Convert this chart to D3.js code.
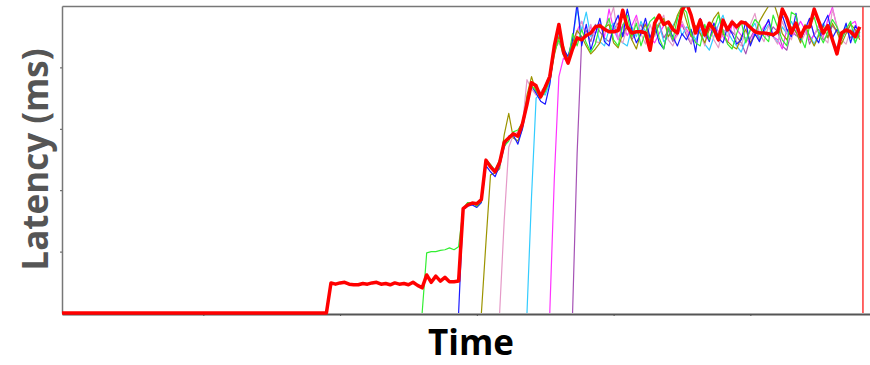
<!DOCTYPE html>
<html>
<head>
<meta charset="utf-8">
<script src="https://cdn.jsdelivr.net/npm/d3@7"></script>
<style>
  html, body { margin: 0; padding: 0; background: #fff; }
  svg { display: block; }
</style>
</head>
<body>
<svg id="chart" width="870" height="365"></svg>
<script>
// ---- data: latency per sample, one array per client (index = sample number) ----
const yTickValues = [1, 2, 3, 4];
const xTickValues = [31, 61, 91, 121, 151];
const cursorTime = [175.7];

const redStart = 0;
const redValues = [
  0,0,0,0,0,0,0,0,0,0,
  0,0,0,0,0,0,0,0,0,0,
  0,0,0,0,0,0,0,0,0,0,
  0,0,0,0,0,0,0,0,0,0,
  0,0,0,0,0,0,0,0,0,0,
  0,0,0,0,0,0,0,0,0,0.49,
  0.47,0.49,0.50,0.47,0.46,0.46,0.48,0.47,0.49,0.50,
  0.47,0.48,0.46,0.49,0.47,0.48,0.46,0.50,0.45,0.41,
  0.62,0.50,0.60,0.52,0.58,0.51,0.51,0.52,1.70,1.76,
  1.79,1.78,1.85,2.49,2.38,2.30,2.45,2.78,2.85,2.92,
  2.88,3.08,3.40,3.75,3.70,3.52,3.68,3.85,4.35,4.70,
  4.25,4.07,4.30,4.48,4.45,4.52,4.56,4.66,4.68,4.62,
  4.58,4.58,4.60,4.93,4.66,4.56,4.58,4.58,4.56,4.28,
  4.72,4.85,4.70,4.74,4.62,4.56,4.93,5.05,4.85,4.56,
  4.77,4.53,4.72,4.62,4.45,4.77,4.61,4.74,4.66,4.74,
  4.72,4.65,4.58,4.56,4.56,4.55,4.53,4.58,4.95,4.80,
  4.56,4.72,4.50,4.66,4.66,4.95,4.75,4.56,4.68,4.45,
  4.22,4.56,4.61,4.58,4.50,4.66
];

const greenStart = 79;
const greenValues = [
  0,
  0.98,1.00,1.00,1.02,1.03,1.06,1.03,1.08,1.70,1.80,
  1.80,1.74,1.82,2.50,2.42,2.32,2.50,2.72,2.80,2.95,
  2.98,3.10,3.45,3.70,3.62,3.50,3.60,3.80,4.25,4.45,
  4.20,4.10,4.55,4.35,4.62,4.40,4.25,4.38,4.70,4.62,
  4.80,4.45,4.35,4.68,4.85,4.50,4.72,4.35,4.58,4.75,
  4.82,4.48,4.30,4.66,4.45,4.80,4.98,4.90,4.55,4.40,
  4.35,4.70,4.45,4.62,4.85,4.60,4.38,4.30,4.55,4.75,
  4.40,4.62,4.78,4.70,4.50,4.42,4.85,4.65,4.45,4.35,
  4.90,4.85,4.50,4.32,4.68,4.82,4.55,4.40,4.58,4.78,
  4.66,4.45,4.62,4.75,4.40,4.58
];

const blueStart = 87;
const blueValues = [
  0,1.68,1.74,
  1.76,1.72,1.80,2.40,2.30,2.22,2.40,2.70,2.88,2.90,
  2.75,3.00,3.38,3.70,3.58,3.45,3.40,3.72,4.30,4.65,
  4.30,4.18,4.45,5.05,4.35,4.70,4.28,4.55,4.80,4.42,
  4.35,4.68,4.85,4.50,4.95,4.62,4.40,4.55,4.80,4.48,
  4.70,4.40,4.30,4.65,4.50,4.35,4.55,4.45,4.62,4.25,
  4.80,4.60,4.42,4.72,4.48,4.40,4.66,4.55,4.38,4.45,
  4.75,4.35,4.55,4.42,4.62,4.78,4.50,4.60,4.85,4.62,
  4.50,4.88,4.45,4.62,4.80,4.52,4.40,4.70,4.85,4.48,
  4.62,4.50,4.72,4.40,4.68,4.56
];

const oliveStart = 92;
const oliveValues = [
  0,1.15,2.25,2.28,2.35,2.90,3.25,2.85,
  2.80,3.00,3.55,3.85,3.60,3.55,3.62,3.80,4.20,4.50,
  4.35,4.12,4.40,4.60,4.50,4.35,4.22,4.30,4.40,4.65,
  4.70,4.40,4.32,4.55,4.68,4.45,4.30,4.58,4.70,4.42,
  4.55,4.70,4.80,4.50,4.62,4.85,5.00,4.75,4.50,4.68,
  4.55,4.40,4.62,4.80,4.90,4.55,4.42,4.35,4.30,4.50,
  4.62,4.40,4.52,4.75,4.88,5.00,5.08,4.85,4.55,4.45,
  4.66,4.58,4.40,4.70,4.50,4.35,4.52,4.68,4.48,4.72,
  4.58,4.38,4.55,4.70,4.62,4.45
];

const pinkStart = 96;
const pinkValues = [
  0,1.50,2.70,2.90,
  2.95,3.05,3.80,3.65,3.55,3.60,3.70,3.90,4.30,4.40,
  4.25,4.15,4.35,4.55,4.75,4.50,4.70,4.42,4.40,4.62,
  4.75,4.98,4.48,4.40,4.66,4.50,4.80,4.55,4.38,4.70,
  4.50,4.72,4.85,4.45,4.35,4.55,4.75,4.58,4.40,4.68,
  4.55,4.35,4.72,4.45,4.32,4.62,4.50,4.78,4.42,4.35,
  4.62,4.70,4.88,4.55,4.42,4.68,4.50,4.38,4.75,4.56,
  4.45,4.72,4.40,4.55,4.80,4.52,4.70,4.48,4.40,4.95,
  4.68,4.45,4.38,4.62,4.50,4.66
];

const cyanStart = 102;
const cyanValues = [
  0,1.90,3.50,3.58,3.55,3.75,4.28,4.55,
  4.20,4.15,4.45,4.95,4.60,4.90,4.50,4.68,4.42,4.35,
  4.62,4.72,4.48,4.40,4.35,4.66,4.50,4.75,4.58,4.40,
  4.55,4.70,4.42,4.50,4.68,4.80,4.52,4.66,4.60,4.45,
  4.62,4.38,4.28,4.50,4.70,4.85,4.58,4.45,4.35,4.25,
  4.45,4.60,4.72,4.48,4.58,4.70,4.50,4.40,4.66,4.55,
  4.75,4.58,4.42,4.66,4.52,4.38,4.55,4.72,4.60,4.45,
  4.32,4.52,4.68,4.55,4.40,4.62
];

const magentaStart = 107;
const magentaValues = [
  0,2.20,3.85,
  4.15,4.10,4.40,4.60,4.75,4.50,4.66,4.55,4.72,4.50,
  4.95,4.62,4.45,4.70,4.52,4.68,4.85,4.55,4.72,4.48,
  4.40,4.55,4.68,4.75,4.45,4.52,4.70,4.62,4.50,4.42,
  4.68,4.50,4.45,4.72,4.58,4.50,4.40,4.70,4.62,4.52,
  4.48,4.38,4.62,4.55,4.66,4.75,4.50,4.45,4.30,4.62,
  4.50,4.58,4.75,4.62,4.45,4.52,4.68,4.50,4.78,4.98,
  4.65,4.50,4.58,4.70,4.75,4.50
];

const purpleStart = 112;
const purpleValues = [
  0,2.60,4.45,4.60,4.42,4.70,4.58,4.48,
  4.42,4.62,4.72,4.50,4.66,4.45,4.58,4.70,4.50,4.40,
  4.62,4.72,4.48,4.60,4.42,4.58,4.70,4.52,4.38,4.62,
  4.70,4.50,4.62,4.58,4.42,4.55,4.66,4.58,4.50,4.40,
  4.22,4.48,4.62,4.45,4.58,4.50,4.66,4.58,4.35,4.28,
  4.60,4.52,4.48,4.66,4.38,4.55,4.62,4.45,4.52,4.68,
  4.58,4.45,4.62,4.48,4.58,4.50
];

// thin client lines first, the thick red trace last so it sits on top
const series = [
  { color: "#a552b5", start: purpleStart,  values: purpleValues,  width: 1.2 },
  { color: "#ff33ff", start: magentaStart, values: magentaValues, width: 1.2 },
  { color: "#33ccff", start: cyanStart,    values: cyanValues,    width: 1.2 },
  { color: "#e59ac8", start: pinkStart,    values: pinkValues,    width: 1.2 },
  { color: "#9c9400", start: oliveStart,   values: oliveValues,   width: 1.2 },
  { color: "#1a1aff", start: blueStart,    values: blueValues,    width: 1.2 },
  { color: "#33ee33", start: greenStart,   values: greenValues,   width: 1.2 },
  { color: "#ff0000", start: redStart,     values: redValues,     width: 3.5 }
];

// ---- layout ----
const svg = d3.select("#chart");
const plotLeft = 62, plotRight = 878, plotTop = 6, plotBottom = 313;

const x = d3.scaleLinear().domain([0, 179]).range([plotLeft, plotRight]);
const y = d3.scaleLinear().domain([0, 5]).range([plotBottom, plotTop]);

svg.append("defs").append("clipPath").attr("id", "plot-clip")
  .append("rect")
  .attr("x", plotLeft).attr("y", plotTop)
  .attr("width", plotRight - plotLeft).attr("height", plotBottom - plotTop + 3);

// bottom axis
const xAxis = svg.append("g")
  .attr("transform", `translate(0,${plotBottom + 1})`)
  .call(d3.axisBottom(x).tickValues(xTickValues).tickSize(2).tickSizeOuter(0).tickFormat(""));
xAxis.select(".domain").attr("stroke", "#555").attr("stroke-width", 2);
xAxis.selectAll(".tick line").attr("stroke", "#555");

// left axis
const yAxis = svg.append("g")
  .attr("transform", `translate(${plotLeft},0)`)
  .call(d3.axisLeft(y).tickValues(yTickValues).tickSize(2).tickSizeOuter(0).tickFormat(""));
yAxis.select(".domain").attr("stroke", "#777").attr("stroke-width", 1.5);
yAxis.selectAll(".tick line").attr("stroke", "#555");

// lines
const line = d3.line()
  .x(d => x(d.t))
  .y(d => y(d.v));

const plot = svg.append("g").attr("clip-path", "url(#plot-clip)");

series.forEach(s => {
  const pts = s.values.map((v, k) => ({ t: s.start + k, v }));
  plot.append("path")
    .datum(pts)
    .attr("fill", "none")
    .attr("stroke", s.color)
    .attr("stroke-width", s.width)
    .attr("stroke-linejoin", "round")
    .attr("d", line);
});

// current-time cursor
plot.selectAll("line.cursor").data(cursorTime).enter().append("line")
  .attr("class", "cursor")
  .attr("x1", d => x(d)).attr("x2", d => x(d))
  .attr("y1", y(5)).attr("y2", y(0))
  .attr("stroke", "#ff0000").attr("stroke-width", 1.2);

// top frame line
const topAxis = svg.append("g")
  .attr("transform", `translate(0,${plotTop})`)
  .call(d3.axisTop(x).tickValues([]).tickSizeOuter(0));
topAxis.select(".domain").attr("stroke", "#777").attr("stroke-width", 1.5);

// axis titles
svg.append("text")
  .attr("transform", `translate(48,${(plotTop + plotBottom) / 2}) rotate(-90)`)
  .attr("text-anchor", "middle")
  .attr("font-family", "'Open Sans', sans-serif")
  .attr("font-weight", 700)
  .attr("font-size", 35)
  .attr("fill", "#555")
  .text("Latency (ms)");

svg.append("text")
  .attr("x", 471)
  .attr("y", 355)
  .attr("text-anchor", "middle")
  .attr("font-family", "'Open Sans', sans-serif")
  .attr("font-weight", 700)
  .attr("font-size", 35)
  .attr("fill", "#000")
  .text("Time");
</script>
</body>
</html>
